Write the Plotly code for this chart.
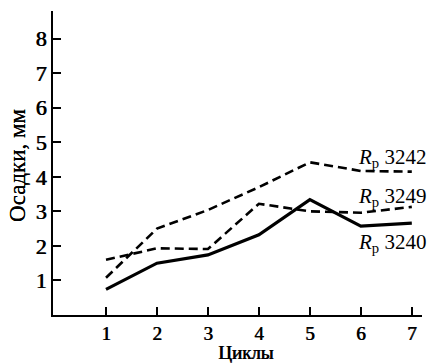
import plotly.graph_objects as go

# Settlement measurements per loading cycle
cycles = [1, 2, 3, 4, 5, 6, 7]
settle_3242 = [1.08, 2.5, 3.04, 3.7, 4.42, 4.17, 4.15]
settle_3249 = [1.6, 1.93, 1.91, 3.22, 3.0, 2.96, 3.13]
settle_3240 = [0.74, 1.5, 1.74, 2.32, 3.34, 2.57, 2.66]

series_labels = ["3242", "3249", "3240"]
label_y = [4.55, 3.43, 2.07]

x_ticks = [1, 2, 3, 4, 5, 6, 7]
y_ticks = [1, 2, 3, 4, 5, 6, 7, 8]

FONT = "Liberation Serif, Times New Roman, serif"
# slight horizontal shadow gives the print-like heavier strokes
HEAVY = "0.7px 0px 0px black"

fig = go.Figure()
fig.add_trace(go.Scatter(x=cycles, y=settle_3242, mode="lines",
                         line=dict(color="black", width=2.6, dash="9px,5px")))
fig.add_trace(go.Scatter(x=cycles, y=settle_3249, mode="lines",
                         line=dict(color="black", width=2.6, dash="9px,5px")))
fig.add_trace(go.Scatter(x=cycles, y=settle_3240, mode="lines",
                         line=dict(color="black", width=3.2)))

for name, yv in zip(series_labels, label_y):
    fig.add_annotation(x=5.9, y=yv, xref="x", yref="y",
                       text=f"<i>R</i><sub>р</sub> {name}",
                       showarrow=False, xanchor="left", yanchor="middle",
                       font=dict(family=FONT, size=21, color="black"))

# Axis titles
fig.add_annotation(x=0.523, y=-0.122, xref="paper", yref="paper",
                   text="Циклы", showarrow=False,
                   xanchor="center", yanchor="middle",
                   font=dict(family=FONT, size=19, color="black", shadow=HEAVY))
fig.add_annotation(x=-0.098, y=0.493, xref="paper", yref="paper",
                   text="Осадки, мм", showarrow=False, textangle=-90,
                   xanchor="center", yanchor="middle",
                   font=dict(family=FONT, size=23, color="black", shadow="0px 0.7px 0px black"))

fig.update_layout(
    width=434, height=363,
    margin=dict(l=53, r=12, t=11, b=48),
    paper_bgcolor="white", plot_bgcolor="white",
    showlegend=False,
    font=dict(family=FONT, color="black"),
)
fig.update_xaxes(
    range=[-0.04, 7.2], tickvals=x_ticks,
    ticks="inside", ticklen=8, tickwidth=2, tickcolor="black",
    showline=True, linewidth=2, linecolor="black",
    showgrid=False, zeroline=False,
    tickfont=dict(family=FONT, size=19, color="black", shadow=HEAVY),
)
fig.update_yaxes(
    range=[0, 8.8], tickvals=y_ticks,
    ticks="inside", ticklen=8, tickwidth=2, tickcolor="black",
    showline=True, linewidth=2, linecolor="black",
    showgrid=False, zeroline=False,
    tickfont=dict(family=FONT, size=22, color="black", shadow=HEAVY),
)

fig.write_html("out.html")
